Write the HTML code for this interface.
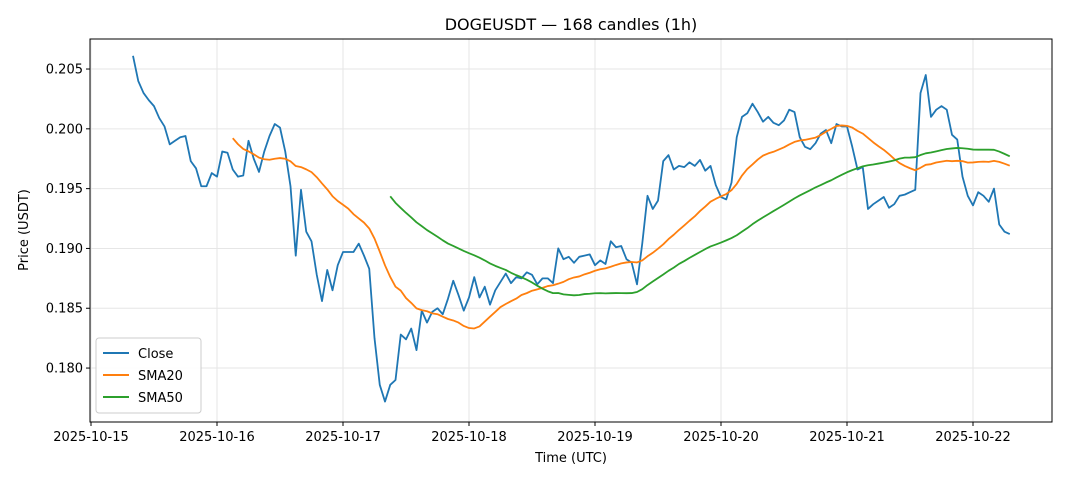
<!DOCTYPE html>
<html><head><meta charset="utf-8"><style>
body{margin:0;background:#fff;font-family:"Liberation Sans","DejaVu Sans",sans-serif;}
svg text{font-family:"DejaVu Sans","Liberation Sans",sans-serif;fill:#000;}
</style></head><body>
<svg id="chart" width="1068" height="481" viewBox="0 0 1068 481" xmlns="http://www.w3.org/2000/svg">
<rect width="1068" height="481" fill="#fff"/>
<text x="571" y="30" font-size="16" text-anchor="middle">DOGEUSDT — 168 candles (1h)</text>
<g id="grid"></g>
<g id="marks"></g>
<rect x="90" y="39" width="962" height="383" fill="none" stroke="#000" stroke-width="1"/>
<g id="axes"></g>
<text x="571" y="462" font-size="13" text-anchor="middle">Time (UTC)</text>
<text x="28" y="230" font-size="13" text-anchor="middle" transform="rotate(-90 28 230)">Price (USDT)</text>
<g>
<rect x="96" y="338" width="105" height="75" rx="3" fill="#fff" fill-opacity="0.85" stroke="#ccc"/>
<line x1="103" y1="353" x2="129" y2="353" stroke="#1f77b4" stroke-width="2"/>
<text x="138" y="358" font-size="13">Close</text>
<line x1="103" y1="375" x2="129" y2="375" stroke="#ff7f0e" stroke-width="2"/>
<text x="138" y="380" font-size="13">SMA20</text>
<line x1="103" y1="397" x2="129" y2="397" stroke="#2ca02c" stroke-width="2"/>
<text x="138" y="402" font-size="13">SMA50</text>
</g>
</svg>
<script>
const closes = [0.2061,0.2040,0.2030,0.2024,0.2019,0.2009,0.2002,0.1987,0.1990,0.1993,0.1994,0.1973,0.1967,0.1952,0.1952,0.1963,0.1960,0.1981,0.1980,0.1966,
0.1960,0.1961,0.1990,0.1975,0.1964,0.1981,0.1994,0.2004,0.2001,0.1981,0.1952,0.1894,0.1949,0.1914,0.1906,0.1878,0.1856,0.1882,0.1865,0.1886,
0.1897,0.1897,0.1897,0.1904,0.1894,0.1883,0.1825,0.1786,0.1772,0.1786,0.1790,0.1828,0.1824,0.1833,0.1815,0.1848,0.1838,0.1847,0.1850,0.1845,
0.1858,0.1873,0.1861,0.1848,0.1859,0.1876,0.1859,0.1868,0.1853,0.1865,0.1872,0.1879,0.1871,0.1876,0.1875,0.1880,0.1878,0.1870,0.1875,0.1875,
0.1871,0.1900,0.1891,0.1893,0.1888,0.1893,0.1894,0.1895,0.1886,0.1890,0.1887,0.1906,0.1901,0.1902,0.1891,0.1888,0.1870,0.1904,0.1944,0.1933,
0.1940,0.1973,0.1978,0.1966,0.1969,0.1968,0.1972,0.1969,0.1974,0.1965,0.1969,0.1953,0.1943,0.1941,0.1955,0.1993,0.2010,0.2013,0.2021,0.2014,
0.2006,0.2010,0.2005,0.2003,0.2007,0.2016,0.2014,0.1993,0.1985,0.1983,0.1988,0.1996,0.1999,0.1988,0.2004,0.2002,0.2002,0.1985,0.1966,0.1968,
0.1933,0.1937,0.1940,0.1943,0.1934,0.1937,0.1944,0.1945,0.1947,0.1949,0.2030,0.2045,0.2010,0.2016,0.2019,0.2016,0.1995,0.1991,0.1960,0.1944,
0.1936,0.1947,0.1944,0.1939,0.1950,0.1920,0.1914,0.1912];
const startHour = 8;
const yTicks = [0.180,0.185,0.190,0.195,0.200,0.205];
const xTickLabels = ["2025-10-15","2025-10-16","2025-10-17","2025-10-18","2025-10-19","2025-10-20","2025-10-21","2025-10-22"];

const yMin=0.17549, yMax=0.20751, plotTop=39, plotBottom=422;
const xs = h => 91 + h*5.25;
const ys = v => plotBottom - (v-yMin)/(yMax-yMin)*(plotBottom-plotTop);
const NS="http://www.w3.org/2000/svg";
const grid=document.getElementById('grid'), axes=document.getElementById('axes'), marks=document.getElementById('marks');
function mk(tag,attrs,parent){const e=document.createElementNS(NS,tag);for(const k in attrs)e.setAttribute(k,attrs[k]);parent.appendChild(e);return e;}
yTicks.forEach(t=>{
  const y=ys(t);
  const g=mk('line',{x1:90,x2:1052,y1:y,y2:y,stroke:'#e6e6e6','stroke-width':1},grid);
  
  
  mk('line',{x1:86,x2:90,y1:y,y2:y,stroke:'#000'},axes);
  const tx=mk('text',{x:83,y:y+4.5,'font-size':13,'text-anchor':'end'},axes);
  tx.textContent=t.toFixed(3);
  
  
});
xTickLabels.forEach((l,i)=>{
  const x=xs(i*24);
  const g=mk('line',{x1:x,x2:x,y1:plotTop,y2:plotBottom,stroke:'#e6e6e6','stroke-width':1},grid);
  
  
  mk('line',{x1:x,x2:x,y1:plotBottom,y2:plotBottom+4,stroke:'#000'},axes);
  const tx=mk('text',{x:x,y:441,'font-size':13,'text-anchor':'middle'},axes);
  tx.textContent=l;
  
  
});
function sma(n){const r=[];for(let i=n-1;i<closes.length;i++){let s=0;for(let j=i-n+1;j<=i;j++)s+=closes[j];r.push([i,s/n]);}return r;}
function line(pts,color,name){
  const d=pts.map((p,k)=>(k?'L':'M')+xs(startHour+p[0]).toFixed(2)+' '+ys(p[1]).toFixed(2)).join(' ');
  const p=mk('path',{d:d,fill:'none',stroke:color,'stroke-width':1.8,'stroke-linejoin':'round'},marks);
  
  
}
line(closes.map((v,i)=>[i,v]),'#1f77b4','close-line');
line(sma(20),'#ff7f0e','sma20-line');
line(sma(50),'#2ca02c','sma50-line');
</script>
</body></html>
